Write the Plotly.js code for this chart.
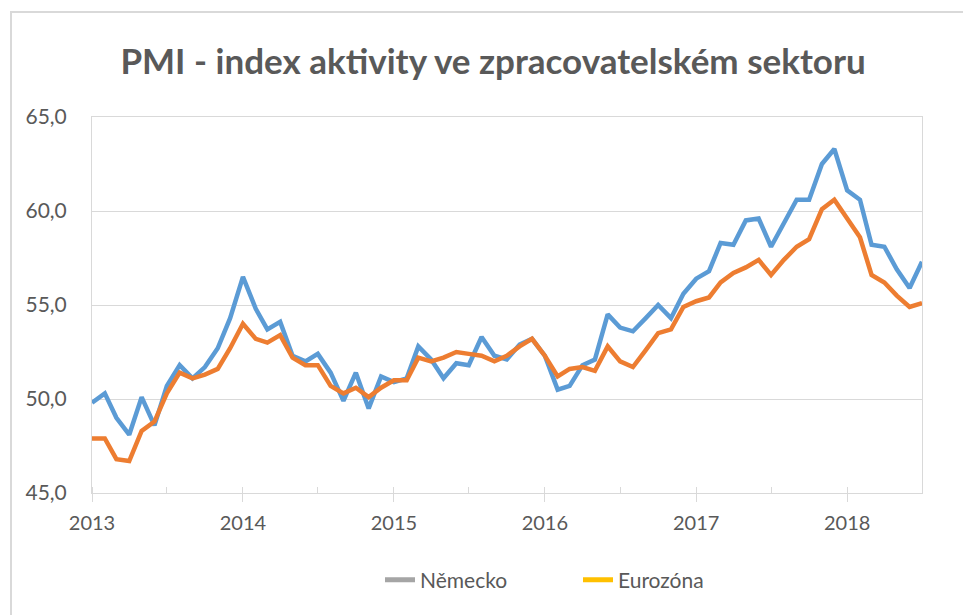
<!DOCTYPE html>
<html>
<head>
<meta charset="utf-8">
<script src="https://cdn.plot.ly/plotly-3.0.1.min.js"></script>
<style>
  html, body { margin: 0; padding: 0; background: #ffffff; overflow: hidden; }
  #chart { width: 963px; height: 615px; }
  #frame { position: absolute; left: 10px; top: 11px; width: 1200px; height: 900px;
           border: 2px solid #d9d9d9; pointer-events: none; }
</style>
</head>
<body>
<div id="chart"></div>
<div id="frame"></div>
<script>
// Monthly PMI readings, Jan 2013 – Jul 2018
const startYear = 2013;
const startMonth = 1;

const nemecko = [
  49.8, 50.3, 49.0, 48.1, 50.1, 48.6, 50.7, 51.8, 51.1, 51.7, 52.7, 54.3,   // 2013
  56.5, 54.8, 53.7, 54.1, 52.3, 52.0, 52.4, 51.4, 49.9, 51.4, 49.5, 51.2,   // 2014
  50.9, 51.1, 52.8, 52.1, 51.1, 51.9, 51.8, 53.3, 52.3, 52.1, 52.9, 53.2,   // 2015
  52.3, 50.5, 50.7, 51.8, 52.1, 54.5, 53.8, 53.6, 54.3, 55.0, 54.3, 55.6,   // 2016
  56.4, 56.8, 58.3, 58.2, 59.5, 59.6, 58.1, 59.3, 60.6, 60.6, 62.5, 63.3,   // 2017
  61.1, 60.6, 58.2, 58.1, 56.9, 55.9, 57.3                                  // 2018
];

const eurozona = [
  47.9, 47.9, 46.8, 46.7, 48.3, 48.8, 50.3, 51.4, 51.1, 51.3, 51.6, 52.7,   // 2013
  54.0, 53.2, 53.0, 53.4, 52.2, 51.8, 51.8, 50.7, 50.3, 50.6, 50.1, 50.6,   // 2014
  51.0, 51.0, 52.2, 52.0, 52.2, 52.5, 52.4, 52.3, 52.0, 52.3, 52.8, 53.2,   // 2015
  52.3, 51.2, 51.6, 51.7, 51.5, 52.8, 52.0, 51.7, 52.6, 53.5, 53.7, 54.9,   // 2016
  55.2, 55.4, 56.2, 56.7, 57.0, 57.4, 56.6, 57.4, 58.1, 58.5, 60.1, 60.6,   // 2017
  59.6, 58.6, 56.6, 56.2, 55.5, 54.9, 55.1                                  // 2018
];

const seriesNames = ['Německo', 'Eurozóna'];
const yTicks = [45, 50, 55, 60, 65];
const titleText = 'PMI - index aktivity ve zpracovatelském sektoru';

// month dates for the x axis
const months = nemecko.map(function (_, i) {
  const m = startMonth - 1 + i;
  const y = startYear + Math.floor(m / 12);
  const mm = (m % 12) + 1;
  return y + '-' + (mm < 10 ? '0' + mm : mm) + '-01';
});

const FONT = 'Lato, "Open Sans", sans-serif';

const traces = [
  { x: months, y: nemecko, type: 'scatter', mode: 'lines', name: seriesNames[0],
    line: { color: '#5B9BD5', width: 4.5 }, showlegend: false, hoverinfo: 'x+y' },
  { x: months, y: eurozona, type: 'scatter', mode: 'lines', name: seriesNames[1],
    line: { color: '#ED7D31', width: 4.5 }, showlegend: false, hoverinfo: 'x+y' },
  // legend entries (the original legend uses these colours)
  { x: [null], y: [null], type: 'scatter', mode: 'lines', name: seriesNames[0],
    line: { color: '#A5A5A5', width: 5 } },
  { x: [null], y: [null], type: 'scatter', mode: 'lines', name: seriesNames[1],
    line: { color: '#FFC000', width: 5 } }
];

const layout = {
  width: 963, height: 615,
  paper_bgcolor: '#ffffff', plot_bgcolor: '#ffffff',
  separators: ', ',
  margin: { l: 92, r: 41, t: 117, b: 122 },
  title: {
    text: titleText,
    font: { family: FONT, size: 35, color: '#595959', weight: 'bold' },
    x: 0.512, xanchor: 'center', xref: 'container',
    y: 1 - 62 / 615, yanchor: 'middle', yref: 'container'
  },
  xaxis: {
    type: 'date',
    range: ['2013-01-01', '2018-07-01'],
    tick0: '2013-01-01', dtick: 'M12', tickformat: '%Y',
    ticks: 'outside', ticklen: 8, tickcolor: '#d9d9d9', tickwidth: 1,
    minor: { dtick: 'M6', tick0: '2013-01-01', ticks: 'inside', ticklen: 6, tickcolor: '#d9d9d9', showgrid: false },
    showgrid: false, zeroline: false,
    showline: true, linecolor: '#d9d9d9', linewidth: 1, mirror: true,
    tickfont: { family: FONT, size: 20, color: '#595959' },
    ticklabelstandoff: 4
  },
  yaxis: {
    range: [45, 65], tickvals: yTicks, tickformat: '.1f',
    showgrid: true, gridcolor: '#d9d9d9', gridwidth: 1, zeroline: false,
    showline: true, linecolor: '#d9d9d9', linewidth: 1, mirror: true,
    ticks: '', tickfont: { family: FONT, size: 21, color: '#595959' },
    ticklabelstandoff: 20
  },
  legend: {
    orientation: 'h',
    xref: 'container', yref: 'container',
    x: 380 / 963, xanchor: 'left',
    y: 1 - 580 / 615, yanchor: 'middle',
    font: { family: FONT, size: 21, color: '#595959' },
    entrywidth: 153, entrywidthmode: 'pixels',
    bgcolor: 'rgba(0,0,0,0)'
  },
  showlegend: true
};

Plotly.newPlot('chart', traces, layout, { displayModeBar: false, staticPlot: true });
</script>
</body>
</html>
